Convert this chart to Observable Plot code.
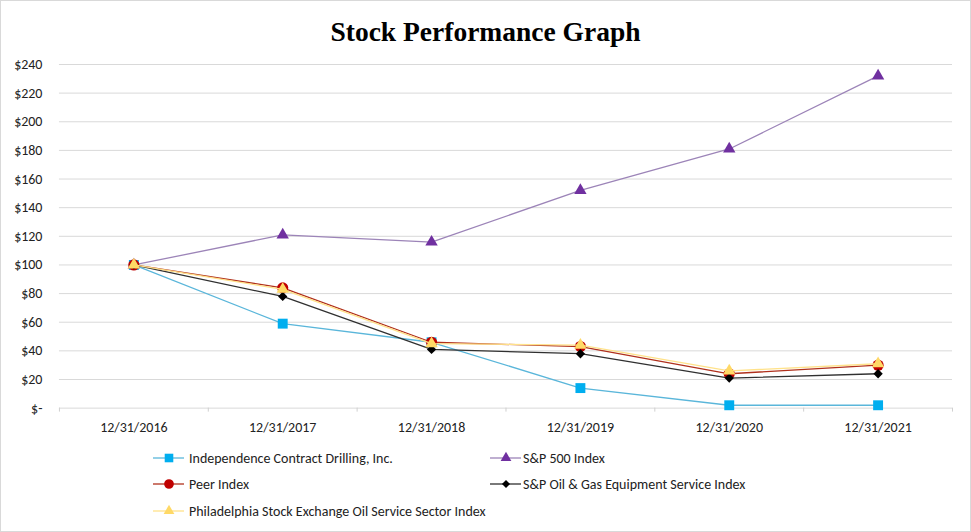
<!DOCTYPE html>
<html>
<head>
<meta charset="utf-8">
<script src="https://cdn.jsdelivr.net/npm/d3@7"></script>
<script src="https://cdn.jsdelivr.net/npm/@observablehq/plot@0.6"></script>
<style>
  html, body { margin: 0; padding: 0; background: #fff; }
  #frame { position: relative; width: 969px; height: 530px; border: 1px solid #d9d9d9; overflow: hidden; }
  #title { position: absolute; left: 0; top: 15px; width: 969px; text-align: center;
           font: bold 27.5px "Liberation Serif", "Times New Roman", serif; color: #000; }
  #chart { position: absolute; left: -1px; top: 49px; }
  .leg { position: absolute; height: 20px; display: flex; align-items: center;
         font: 14px Carlito, Lato, sans-serif; color: #222; white-space: nowrap; }
  .legsym { position: absolute; }
</style>
</head>
<body>
<div id="frame">
  <div id="title">Stock Performance Graph</div>
  <div id="chart"></div>
  <div id="legend"></div>
</div>
<script>
const dates = ["12/31/2016", "12/31/2017", "12/31/2018", "12/31/2019", "12/31/2020", "12/31/2021"];
const icd   = [100, 59, 46, 14, 2, 2];
const sp500 = [100, 121, 116, 152, 181, 232];
const peer  = [100, 84, 46, 43, 24, 30];
const spOG  = [100, 78, 41, 38, 21, 24];
const osx   = [100, 83, 45, 44, 26, 31];
const yTicks = [0, 20, 40, 60, 80, 100, 120, 140, 160, 180, 200, 220, 240];

const series = [
  {name: "Independence Contract Drilling, Inc.", values: icd,   line: "#5ab6da", fill: "#00aeef", symbol: "square",   r: 5.6},
  {name: "S&P 500 Index",                        values: sp500, line: "#9c84b8", fill: "#7030a0", symbol: "triangle", r: 4.6},
  {name: "Peer Index",                           values: peer,  line: "#b0301c", fill: "#c00000", symbol: "circle",   r: 5.6},
  {name: "S&P Oil & Gas Equipment Service Index",values: spOG,  line: "#303030", fill: "#000000", symbol: "diamond2", r: 4.2},
  {name: "Philadelphia Stock Exchange Oil Service Sector Index", values: osx, line: "#ffe28a", fill: "#ffd966", symbol: "triangle", r: 4.6}
];

const rows = s => s.values.map((v, i) => ({i, v}));
const marks = [
  Plot.gridY(yTicks, {stroke: "#d9d9d9", strokeOpacity: 1, strokeWidth: 1}),
  Plot.axisY(yTicks, {tickSize: 0, tickPadding: 17, tickFormat: d => d === 0 ? "$-" : "$" + d,
                      fontSize: 14, fill: "#222", label: null}),
  Plot.axisX(d3.range(6), {tickSize: 0, tickPadding: 14, tickFormat: i => dates[i],
                      fontSize: 14, fill: "#222", label: null}),
  Plot.axisX(d3.range(7).map(k => k - 0.5), {tickSize: 4, tickFormat: () => "", stroke: "#d0d0d0", label: null})
];
for (const s of series) {
  marks.push(Plot.line(rows(s), {x: "i", y: "v", stroke: s.line, strokeWidth: 1.3}));
  marks.push(Plot.dot(rows(s), {x: "i", y: "v", symbol: s.symbol, r: s.r, fill: s.fill, stroke: "none"}));
}

const chart = Plot.plot({
  width: 971,
  height: 392,
  marginTop: 14,
  marginBottom: 34,
  marginLeft: 59,
  marginRight: 18,
  style: {fontFamily: "Carlito, Lato, sans-serif", background: "transparent"},
  x: {type: "linear", domain: [-0.5, 5.5]},
  y: {domain: [0, 240]},
  marks
});
document.getElementById("chart").appendChild(chart);

// Legend
const legPos = [
  {sym: 152, text: 188, top: 447}, {sym: 489, text: 522, top: 447},
  {sym: 152, text: 188, top: 473}, {sym: 489, text: 522, top: 473},
  {sym: 152, text: 188, top: 500}
];
const legend = document.getElementById("legend");
series.forEach((s, k) => {
  const p = legPos[k];
  const sym = d3.symbol(
    {square: d3.symbolSquare, triangle: d3.symbolTriangle, circle: d3.symbolCircle, diamond2: d3.symbolDiamond2}[s.symbol],
    Math.PI * s.r * s.r * 0.75)();
  const svg = document.createElement("div");
  svg.className = "legsym";
  svg.style.left = p.sym + "px";
  svg.style.top = p.top + "px";
  svg.innerHTML = `<svg width="31" height="20" style="display:block"><line x1="0" x2="31" y1="10" y2="10" stroke="${s.line}" stroke-width="1.3"/>` +
    `<path transform="translate(16,10)" d="${sym}" fill="${s.fill}"/></svg>`;
  legend.appendChild(svg);
  const div = document.createElement("div");
  div.className = "leg";
  div.style.left = p.text + "px";
  div.style.top = p.top + "px";
  div.textContent = s.name;
  legend.appendChild(div);
});
</script>
</body>
</html>
